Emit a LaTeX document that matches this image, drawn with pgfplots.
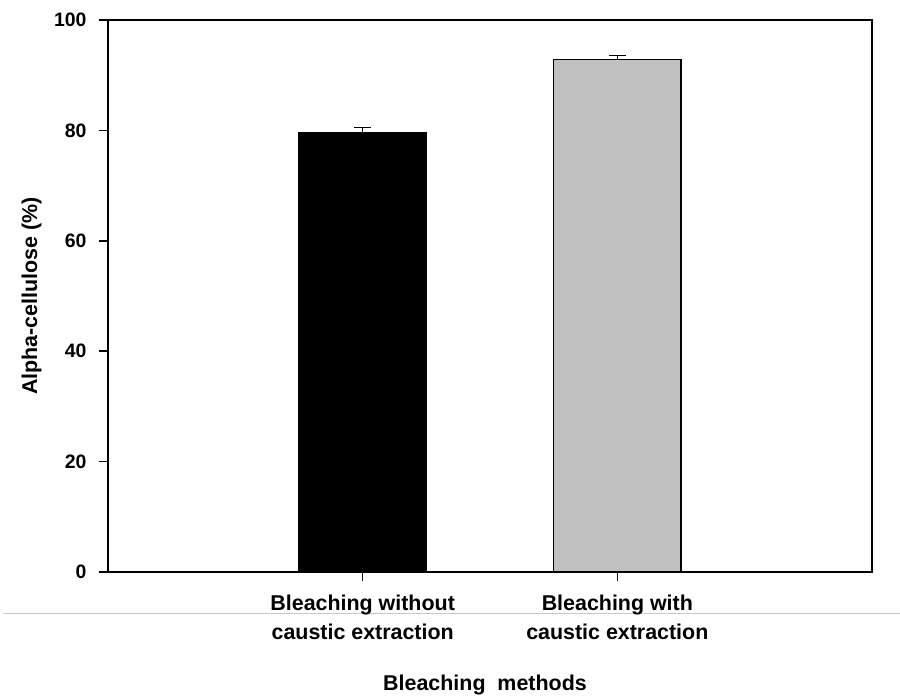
\documentclass[border=0pt]{standalone}
\usepackage{fontspec}
\setmainfont{Liberation Sans}
\usepackage{pgfplots}
\pgfplotsset{compat=1.18}

\definecolor{barGrey}{RGB}{192,192,192}
\definecolor{ruleGrey}{RGB}{200,200,200}

\begin{document}
\begin{tikzpicture}
\useasboundingbox (0bp,0bp) rectangle (900bp,-696bp);
% thin separator rule across the page
\draw[ruleGrey, line width=1bp] (3bp,-613bp) -- (900bp,-613bp);
\begin{axis}[
  at={(108bp,-572bp)}, anchor=south west,
  scale only axis, width=764bp, height=552bp,
  xmin=-1, xmax=2, ymin=0, ymax=100,
  ybar, bar width=0.5,
  xtick={0,1},
  xticklabels={Bleaching without\\caustic extraction, Bleaching with\\caustic extraction},
  ytick={0,20,40,60,80,100},
  tick align=outside, xtick pos=bottom, ytick pos=left,
  major tick length=9bp,
  tick style={black, line width=1.5bp},
  axis line style={line width=1.8bp},
  font=\bfseries\fontsize{21.5}{30}\selectfont,
  /pgf/number format/assume math mode=true,
  xticklabel style={align=center, anchor=north, yshift=-10bp,
    font=\bfseries\fontsize{21.5}{29.5}\selectfont},
  yticklabel shift=9bp,
  yticklabel style={anchor=east,
    font=\bfseries\fontsize{19.5}{22}\selectfont},
  xlabel={Bleaching\ \ methods},
  xlabel style={at={(axis description cs:0.5,-0.2138)}, anchor=base, xshift=-5bp},
  ylabel={Alpha-cellulose (\%)},
  ylabel style={at={(axis description cs:-0.0929,0.5)}, anchor=base},
  error bars/y dir=plus, error bars/y explicit,
  error bars/error mark options={black, rotate=90, mark size=8.5bp, line width=1.5bp},
  error bars/error bar style={black, line width=1.5bp},
]
\addplot[fill=black, draw=black, line width=1.5bp, bar shift=0]
  coordinates {(0,79.5) +- (0,1.0)};
\addplot[fill=barGrey, draw=black, line width=1.5bp, bar shift=0]
  coordinates {(1,92.8) +- (0,0.8)};
\end{axis}
\end{tikzpicture}
\end{document}
